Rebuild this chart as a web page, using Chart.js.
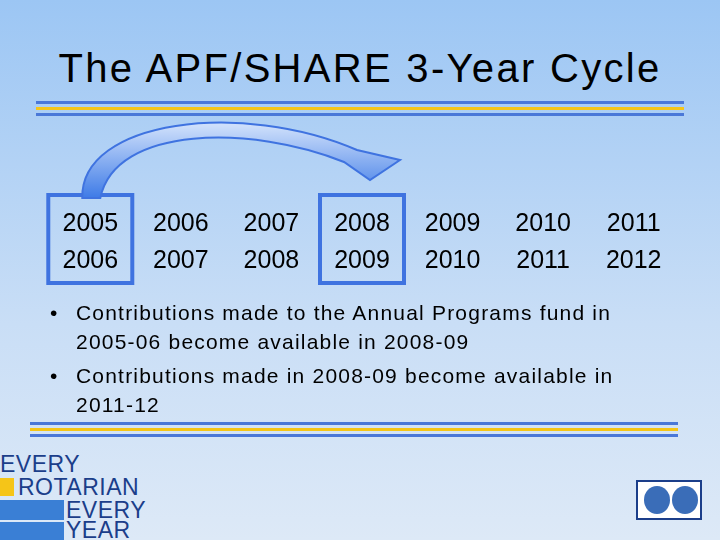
<!DOCTYPE html>
<html><head><meta charset="utf-8">
<script src="https://cdn.jsdelivr.net/npm/chart.js@4"></script>
<style>
body{margin:0;width:720px;height:540px;overflow:hidden;font-family:"Liberation Sans",Arial,sans-serif;
 background:linear-gradient(#9cc6f4,#c9def6 60%,#dde9f7);position:relative}
.t{position:absolute;left:0;width:720px;top:46px;text-align:center;font-size:40px;letter-spacing:2.3px;color:#000}
.rule{position:absolute;height:3px}
#wrap{position:absolute;left:0;top:110px;width:720px;height:190px}
ul{position:absolute;left:40px;top:298px;width:640px;margin:0;padding:0 0 0 36px;font-size:21px;line-height:29px;list-style:none;letter-spacing:1.2px;white-space:nowrap}
li{position:relative;margin-bottom:5px}
li:before{content:"•";position:absolute;left:-26px}
.logo{position:absolute;left:0;font-size:23px;line-height:23px;color:#1b3e8a;letter-spacing:0.5px}
</style></head><body>
<div class="t">The APF/SHARE 3-Year Cycle</div>
<div class="rule" style="left:36px;width:648px;top:101px;background:#4a78d8"></div>
<div class="rule" style="left:36px;width:648px;top:107px;background:#f5c518"></div>
<div class="rule" style="left:36px;width:648px;top:113px;background:#4a78d8"></div>
<div id="wrap"><canvas id="c"></canvas></div>
<ul>
<li>Contributions made to the Annual Programs fund in<br>2005-06 become available in 2008-09</li>
<li>Contributions made in 2008-09 become available in<br>2011-12</li>
</ul>
<div class="rule" style="left:30px;width:648px;top:422px;background:#4a78d8"></div>
<div class="rule" style="left:30px;width:648px;top:428px;background:#f5c518"></div>
<div class="rule" style="left:30px;width:648px;top:434px;background:#4a78d8"></div>
<div class="logo" style="top:453px">EVERY</div>
<div style="position:absolute;left:0;top:478px;width:14px;height:18px;background:#f5c518"></div>
<div class="logo" style="top:476px;left:18px">ROTARIAN</div>
<div style="position:absolute;left:0;top:500px;width:64px;height:20px;background:#3a7fd5"></div>
<div class="logo" style="top:499px;left:66px">EVERY</div>
<div style="position:absolute;left:0;top:522px;width:64px;height:18px;background:#3a7fd5"></div>
<div class="logo" style="top:519px;left:66px">YEAR</div>
<div style="position:absolute;left:636px;top:480px;width:66px;height:40px;background:#fff;border:2px solid #1b3e8a;box-sizing:border-box">
 <div style="position:absolute;left:6px;top:4px;width:26px;height:28px;border-radius:50%;background:#3a6db8"></div>
 <div style="position:absolute;left:34px;top:4px;width:26px;height:28px;border-radius:50%;background:#3a6db8"></div>
</div>
<script>
const periods = ['2005-2006','2006-2007','2007-2008','2008-2009','2009-2010','2010-2011','2011-2012'];
const startYears = [2005, 2006, 2007, 2008, 2009, 2010, 2011];
const endYears = [2006, 2007, 2008, 2009, 2010, 2011, 2012];
const boxed = [0, 3];

const slidePlugin = {
  id: 'slide',
  afterDraw(chart) {
    const c = chart.ctx, x = chart.scales.x;
    c.save();
    c.font = '25px "Liberation Sans", Arial, sans-serif';
    c.fillStyle = '#000'; c.textAlign = 'center'; c.textBaseline = 'middle';
    periods.forEach((p, i) => {
      const px = x.getPixelForValue(i);
      c.fillText(String(startYears[i]), px, 114);
      c.fillText(String(endYears[i]), px, 151);
    });
    c.strokeStyle = '#3f73e0'; c.lineWidth = 4;
    boxed.forEach(i => {
      const px = x.getPixelForValue(i);
      c.strokeRect(px - 42, 85, 84, 88);
    });
    // arrow from first box to second
    const a = x.getPixelForValue(boxed[0]), b = x.getPixelForValue(boxed[1]);
    const g = c.createLinearGradient(0, 15, 0, 90);
    g.addColorStop(0, '#cfe0fb'); g.addColorStop(1, '#3a78e6');
    c.beginPath();
    c.moveTo(a - 8, 88);
    c.bezierCurveTo(a - 10, 10, b - 120, -10, b - 5, 40);
    c.lineTo(b + 38, 50);
    c.lineTo(b + 8, 70);
    c.lineTo(b - 18, 52);
    c.bezierCurveTo(b - 110, 15, a + 25, 15, a + 10, 88);
    c.closePath();
    c.fillStyle = g; c.fill();
    c.strokeStyle = '#3f73e0'; c.lineWidth = 2; c.stroke();
    c.restore();
  }
};

new Chart(document.getElementById('c'), {
  type: 'bar',
  data: { labels: periods, datasets: [{ data: periods.map(() => null) }] },
  options: {
    responsive: true, maintainAspectRatio: false, animation: false,
    layout: { padding: { left: 45, right: 41, top: 0, bottom: 0 } },
    plugins: { legend: { display: false }, tooltip: { enabled: false } },
    scales: { x: { display: false }, y: { display: false, min: 0, max: 1 } }
  },
  plugins: [slidePlugin]
});
</script>
</body></html>
